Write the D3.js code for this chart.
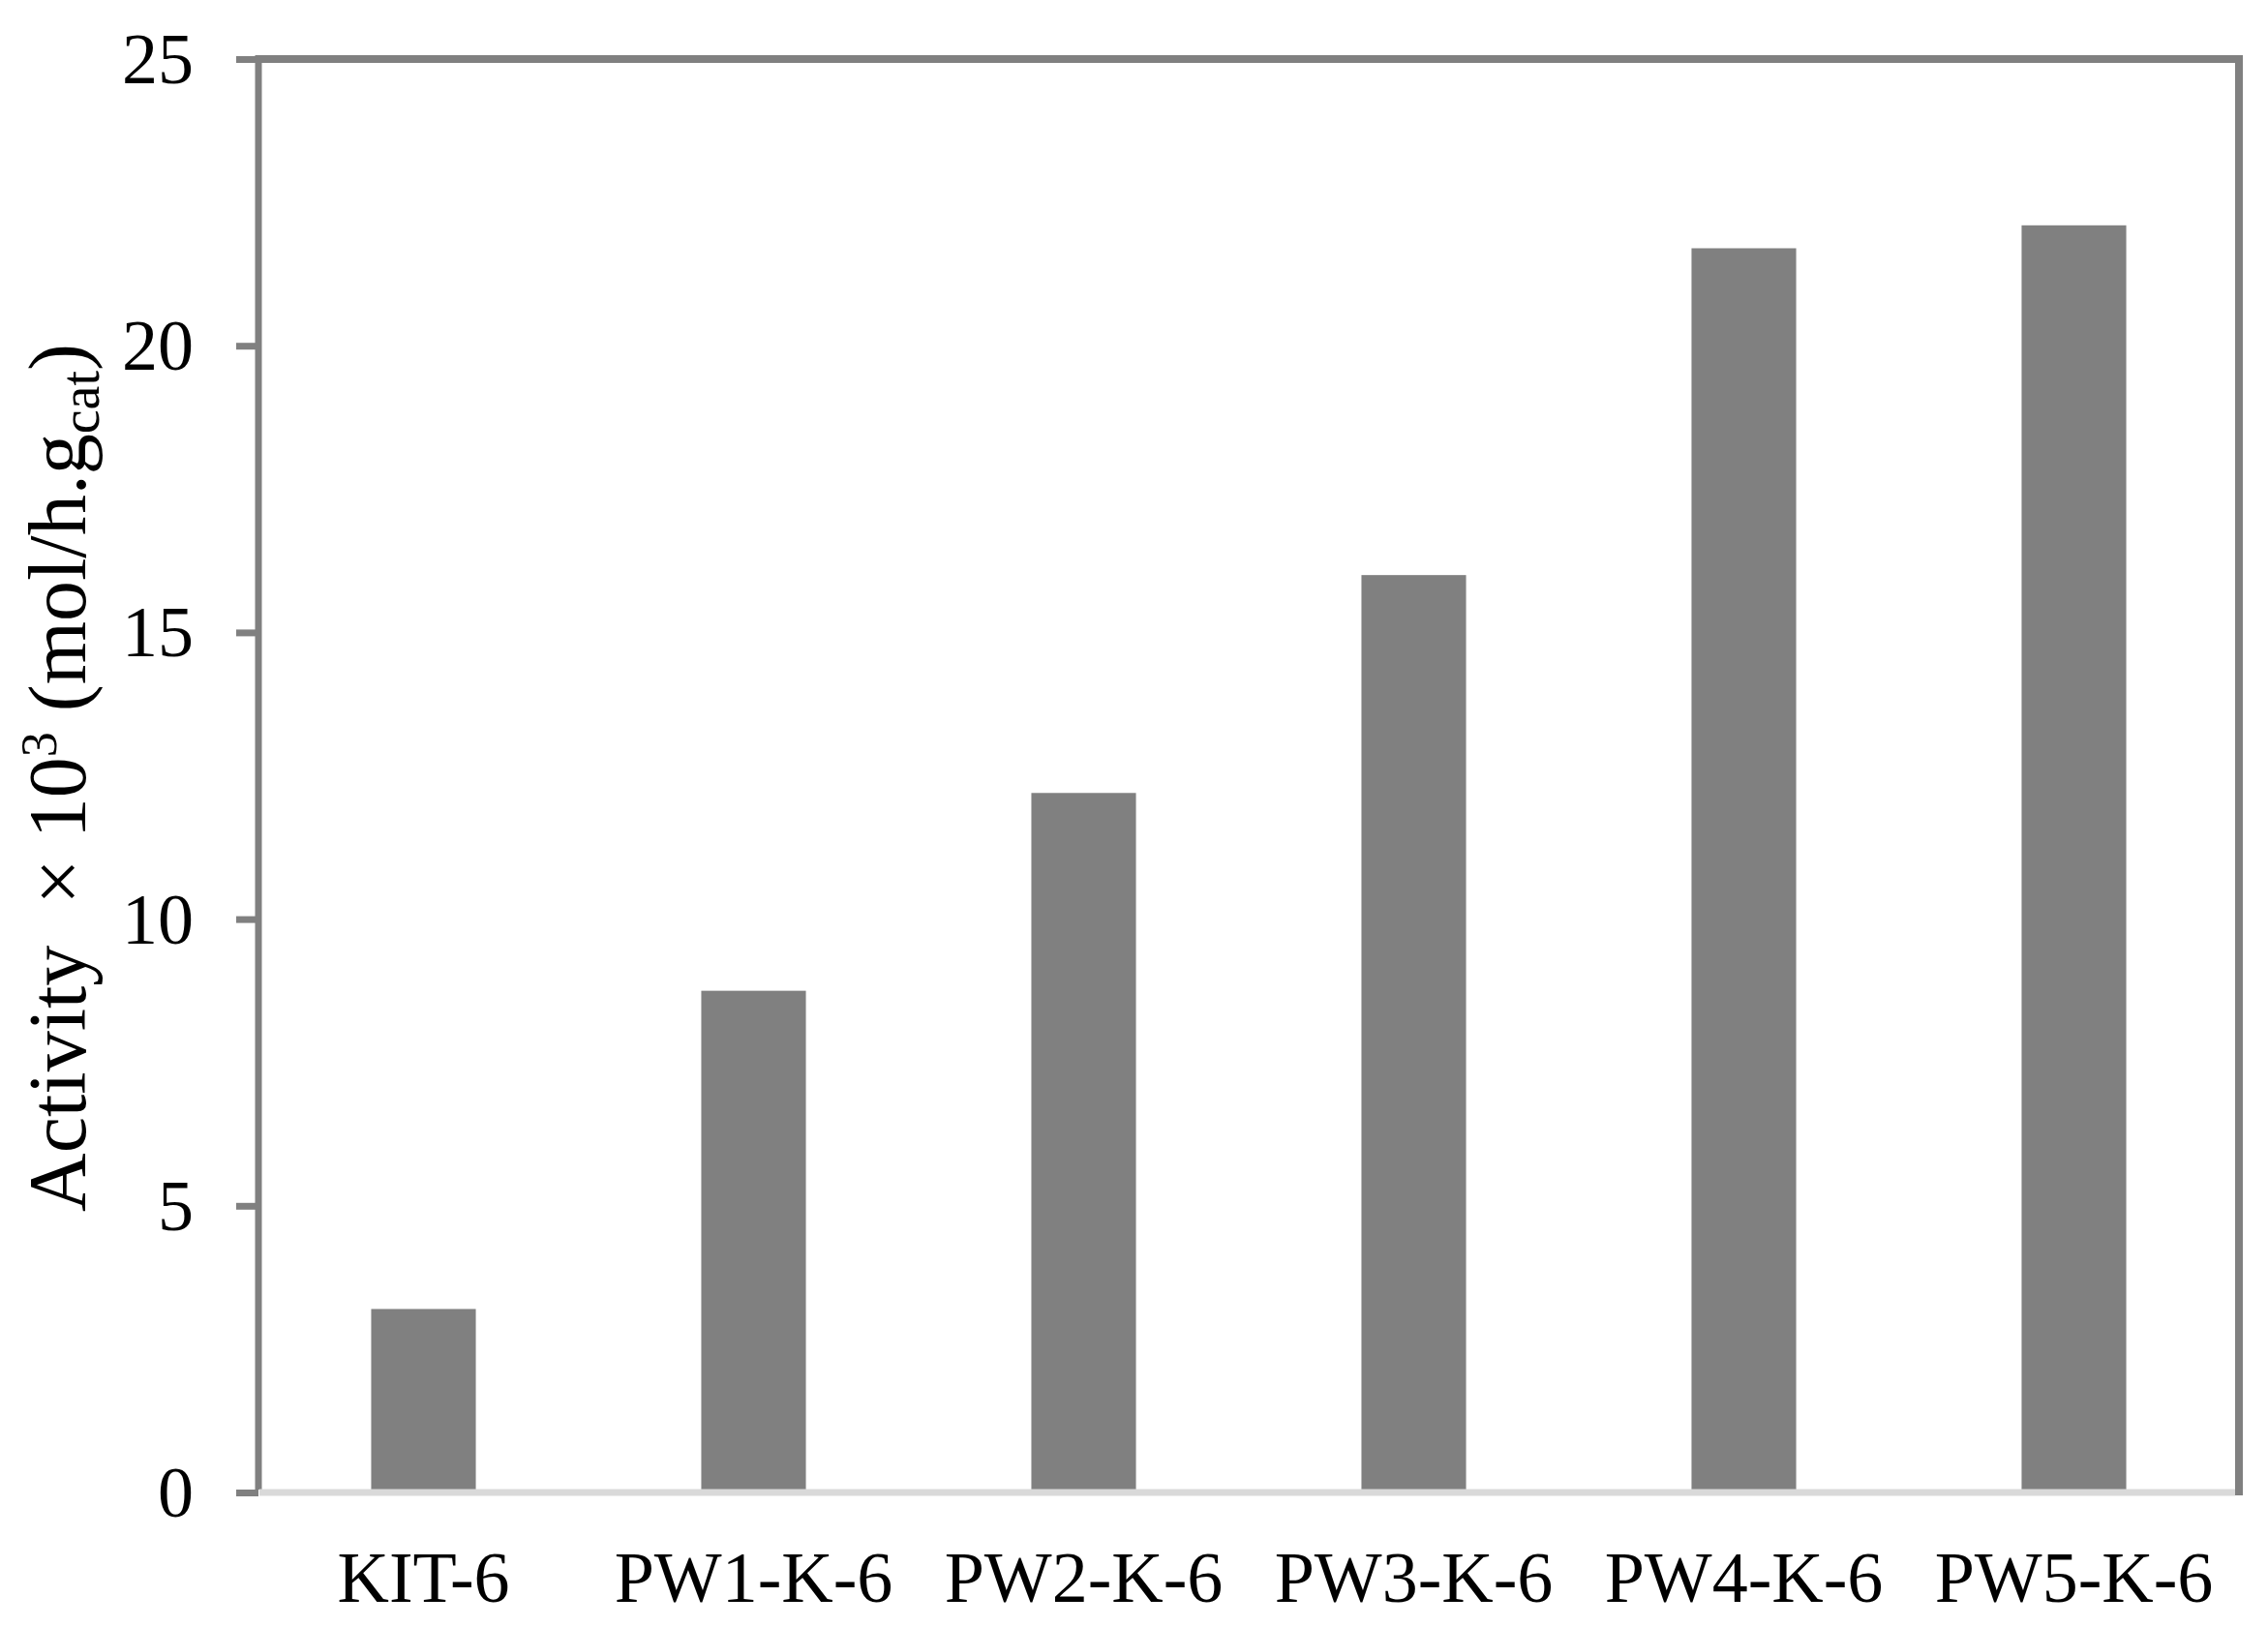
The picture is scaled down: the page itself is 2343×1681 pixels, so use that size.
<!DOCTYPE html>
<html>
<head>
<meta charset="utf-8">
<script src="https://cdn.jsdelivr.net/npm/d3@7"></script>
<style>
  html, body { margin: 0; padding: 0; background: #ffffff; }
  svg { display: block; }
  text { font-family: "Liberation Serif", "Times New Roman", serif; fill: #000; }
</style>
</head>
<body>
<script>
const categories = ["KIT-6", "PW1-K-6", "PW2-K-6", "PW3-K-6", "PW4-K-6", "PW5-K-6"];
const activity = [3.2, 8.75, 12.2, 16.0, 21.7, 22.1];
const yTicks = [0, 5, 10, 15, 20, 25];

const W = 2343, H = 1681;
const mLeft = 267, mRight = 2313, mTop = 61, mBottom = 1542;

const svg = d3.select("body").append("svg")
  .attr("width", W).attr("height", H);

const x = d3.scaleBand().domain(categories).range([mLeft, mRight])
  .paddingInner(0.683).paddingOuter(0.3415);
const y = d3.scaleLinear().domain([0, 25]).range([mBottom, mTop]);

// bars
svg.append("g").selectAll("rect").data(activity).join("rect")
  .attr("x", (d, i) => x(categories[i]))
  .attr("y", d => y(d))
  .attr("width", x.bandwidth())
  .attr("height", d => y(0) - y(d))
  .attr("fill", "#808080");

// frame: top, right, left
svg.append("line").attr("x1", mLeft - 3).attr("x2", mRight + 4).attr("y1", mTop).attr("y2", mTop)
  .attr("stroke", "#808080").attr("stroke-width", 8);
svg.append("line").attr("x1", mRight).attr("x2", mRight).attr("y1", mTop - 4).attr("y2", mBottom + 3)
  .attr("stroke", "#808080").attr("stroke-width", 8);
svg.append("line").attr("x1", mLeft).attr("x2", mLeft).attr("y1", mTop - 4).attr("y2", mBottom - 3)
  .attr("stroke", "#808080").attr("stroke-width", 7);
// bottom axis line
svg.append("line").attr("x1", mLeft + 1).attr("x2", mRight - 4).attr("y1", mBottom).attr("y2", mBottom)
  .attr("stroke", "#d9d9d9").attr("stroke-width", 7);

// y axis ticks and labels
const yAxis = d3.axisLeft(y).tickValues(yTicks).tickSize(23).tickPadding(44).tickSizeOuter(0);
const gy = svg.append("g").attr("transform", `translate(${mLeft},0)`).call(yAxis);
gy.select(".domain").remove();
gy.selectAll(".tick line").attr("stroke", "#808080").attr("stroke-width", 7);
gy.selectAll(".tick text")
  .attr("font-family", "Liberation Serif, Times New Roman, serif")
  .attr("font-size", 74).attr("fill", "#000").attr("dy", "0.33em");

// x axis labels
const xAxis = d3.axisBottom(x).tickSize(0).tickPadding(0);
const gx = svg.append("g").attr("transform", `translate(0,${mBottom})`).call(xAxis);
gx.select(".domain").remove();
gx.selectAll(".tick text")
  .attr("font-family", "Liberation Serif, Times New Roman, serif")
  .attr("font-size", 74).attr("fill", "#000")
  .attr("y", 113).attr("dy", 0);

// y title
const t = svg.append("text")
  .attr("transform", `translate(88,${(mTop + mBottom) / 2 + 2}) rotate(-90)`)
  .attr("text-anchor", "middle")
  .attr("font-size", 84)
  .style("white-space", "pre");
t.append("tspan").text("Activity  \u00d7 10");
t.append("tspan").attr("font-size", 52).attr("dy", -30).text("3");
t.append("tspan").attr("dy", 30).text(" (mol/h.g");
t.append("tspan").attr("font-size", 56).attr("dy", 14).text("cat");
t.append("tspan").attr("dy", -14).text(")");
</script>
</body>
</html>
